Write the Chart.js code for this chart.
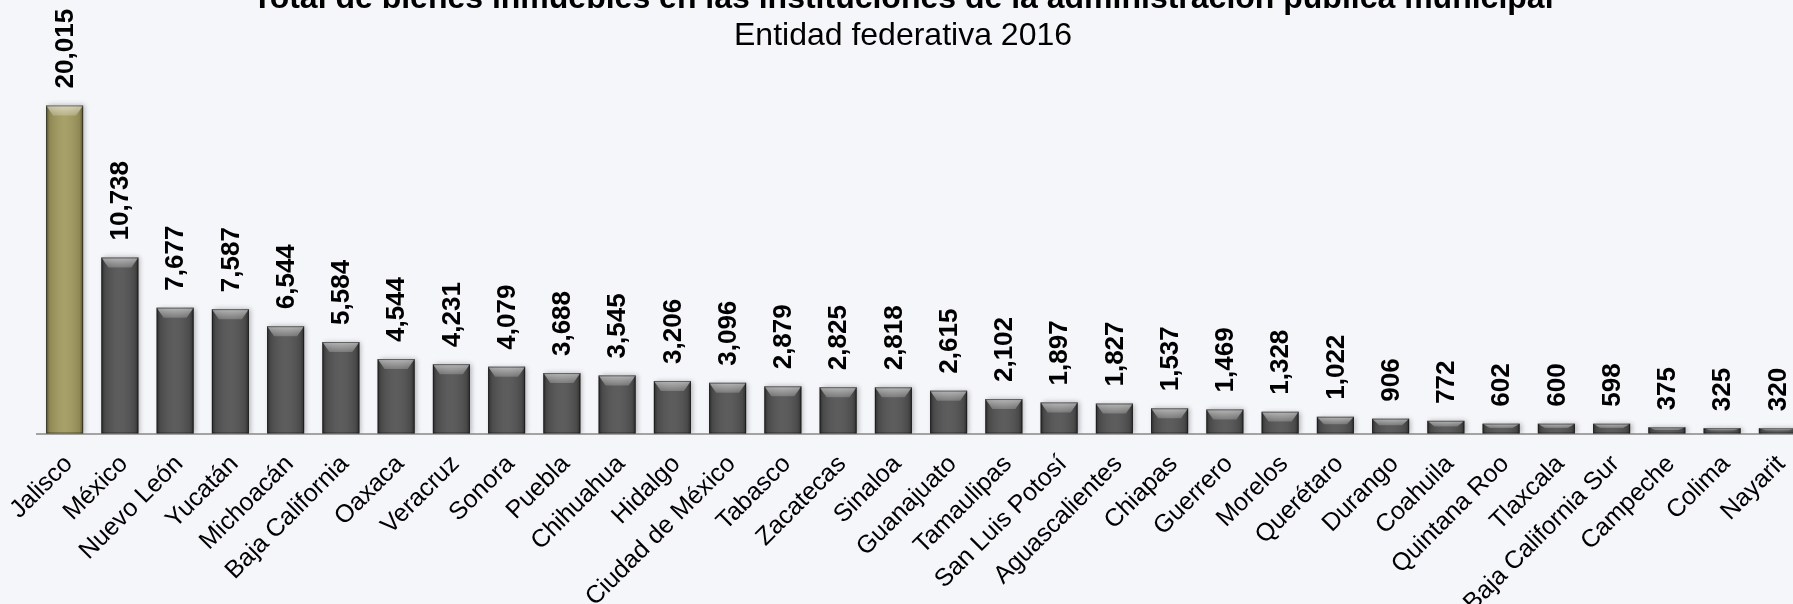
<!DOCTYPE html>
<html>
<head>
<meta charset="utf-8">
<script src="https://cdn.jsdelivr.net/npm/chart.js@4.4.1/dist/chart.umd.min.js"></script>
<style>
  html, body { margin: 0; padding: 0; background: #f5f6fa; overflow: hidden; }
  body { width: 1793px; height: 604px; position: relative; }
  #chart { position: absolute; left: 0; top: -30px; }
</style>
</head>
<body>
<canvas id="chart" width="1806" height="634"></canvas>
<script>
const estados = [
  "Jalisco", "México", "Nuevo León", "Yucatán", "Michoacán", "Baja California",
  "Oaxaca", "Veracruz", "Sonora", "Puebla", "Chihuahua", "Hidalgo",
  "Ciudad de México", "Tabasco", "Zacatecas", "Sinaloa", "Guanajuato", "Tamaulipas",
  "San Luis Potosí", "Aguascalientes", "Chiapas", "Guerrero", "Morelos", "Querétaro",
  "Durango", "Coahuila", "Quintana Roo", "Tlaxcala", "Baja California Sur", "Campeche",
  "Colima", "Nayarit"
];
const inmuebles = [
  20015, 10738, 7677, 7587, 6544, 5584,
  4544, 4231, 4079, 3688, 3545, 3206,
  3096, 2879, 2825, 2818, 2615, 2102,
  1897, 1827, 1537, 1469, 1328, 1022,
  906, 772, 602, 600, 598, 375,
  325, 320
];
const titulo = "Total de bienes inmuebles en las instituciones de la administración pública municipal";
const subtitulo = "Entidad federativa 2016";

const fuente = '"Liberation Sans", Arial, sans-serif';
const colorDestacado = "#a39b60";
const colorBarra = "#545454";

// bevel + shadow + value labels drawn on top of the bars
const barrasBiseladas = {
  id: "barrasBiseladas",
  beforeDatasetsDraw(chart) {
    const ctx = chart.ctx;
    ctx.save();
    ctx.shadowColor = "rgba(0,0,0,0.28)";
    ctx.shadowBlur = 5;
    ctx.shadowOffsetX = 2;
    ctx.shadowOffsetY = 0;
  },
  afterDatasetsDraw(chart) {
    const ctx = chart.ctx;
    ctx.restore();
    const meta = chart.getDatasetMeta(0);

    meta.data.forEach((bar) => {
      const L = bar.x - bar.width / 2;
      const R = bar.x + bar.width / 2;
      const T = bar.y;
      const B = bar.base;
      const h = B - T;
      const b = Math.min(10, h * 0.45);
      const s = Math.min(7, bar.width / 4);

      ctx.save();
      // side shading
      const g = ctx.createLinearGradient(L, 0, R, 0);
      g.addColorStop(0, "rgba(0,0,0,0.45)");
      g.addColorStop(0.1, "rgba(0,0,0,0.12)");
      g.addColorStop(0.5, "rgba(255,255,255,0.05)");
      g.addColorStop(0.9, "rgba(0,0,0,0.12)");
      g.addColorStop(1, "rgba(0,0,0,0.45)");
      ctx.fillStyle = g;
      ctx.fillRect(L, T, R - L, h);

      // top bevel
      const gt = ctx.createLinearGradient(0, T, 0, T + b);
      gt.addColorStop(0, "rgba(255,255,255,0.55)");
      gt.addColorStop(1, "rgba(255,255,255,0.2)");
      ctx.fillStyle = gt;
      ctx.beginPath();
      ctx.moveTo(L, T);
      ctx.lineTo(R, T);
      ctx.lineTo(R - s, T + b);
      ctx.lineTo(L + s, T + b);
      ctx.closePath();
      ctx.fill();

      ctx.strokeStyle = "rgba(0,0,0,0.45)";
      ctx.lineWidth = 1;
      ctx.strokeRect(L + 0.5, T + 0.5, R - L - 1, h - 1);
      ctx.restore();
    });

    ctx.save();
    ctx.font = "bold 26px " + fuente;
    ctx.fillStyle = "#000";
    ctx.textAlign = "left";
    ctx.textBaseline = "middle";
    meta.data.forEach((bar, i) => {
      ctx.save();
      ctx.translate(bar.x, bar.y - 17);
      ctx.rotate(-Math.PI / 2);
      ctx.fillText(inmuebles[i].toLocaleString("en-US"), 0, 1);
      ctx.restore();
    });
    ctx.restore();
  }
};

new Chart(document.getElementById("chart"), {
  type: "bar",
  data: {
    labels: estados,
    datasets: [{
      data: inmuebles,
      backgroundColor: (c) => (c.dataIndex === 0 ? colorDestacado : colorBarra),
      borderWidth: 0,
      categoryPercentage: 1,
      barPercentage: 0.67
    }]
  },
  options: {
    responsive: false,
    animation: false,
    layout: { padding: 0 },
    plugins: {
      legend: { display: false },
      tooltip: { enabled: false },
      title: {
        display: true,
        text: titulo,
        color: "#000",
        font: { family: fuente, size: 32, weight: "bold", lineHeight: 1.1 },
        padding: { top: 12, bottom: 0 }
      },
      subtitle: {
        display: true,
        text: subtitulo,
        color: "#000",
        font: { family: fuente, size: 32, weight: "normal", lineHeight: 1.1 },
        padding: { top: 1, bottom: 19.5 }
      }
    },
    scales: {
      x: {
        grid: { display: false },
        border: { display: true, color: "#a3a3a3", width: 2 },
        ticks: {
          color: "#000",
          font: { family: fuente, size: 25 },
          minRotation: 45,
          maxRotation: 45,
          autoSkip: false,
          padding: 8,
          labelOffset: 4
        },
        afterFit(scale) {
          scale.paddingLeft = 37;
          scale.height = 170.5;
        }
      },
      y: { display: false, min: 0, max: 22000 }
    }
  },
  plugins: [barrasBiseladas]
});
</script>
</body>
</html>
